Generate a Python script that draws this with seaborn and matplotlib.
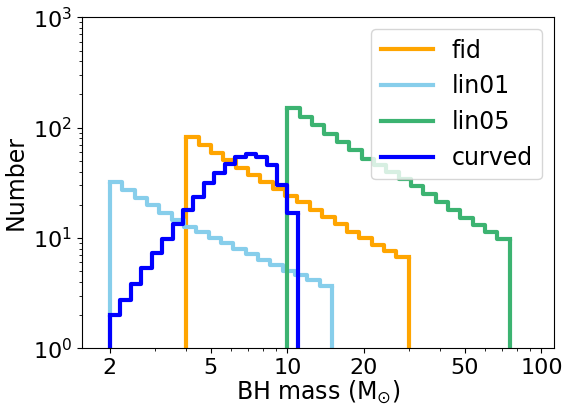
import numpy as np
import pandas as pd
import matplotlib
matplotlib.use("Agg")
import matplotlib.pyplot as plt
from matplotlib.lines import Line2D
import seaborn as sns

# Black-hole mass distributions for four models (counts per log-spaced bin)
models = ["fid", "lin01", "lin05", "curved"]
colors = ["orange", "skyblue", "mediumseagreen", "blue"]

# mass range covered by each model's histogram (M_sun)
mass_lo = [4.0, 2.0, 10.0, 2.0]
mass_hi = [30.0, 15.0, 75.0, 11.0]
n_bins = 18

counts_fid = [82.9, 69.3, 59.0, 50.4, 42.8, 37.3, 32.2, 28.0, 23.9,
              21.0, 17.9, 15.6, 13.4, 11.4, 9.94, 8.64, 7.67, 6.68]
counts_lin01 = [32.4, 27.2, 23.2, 19.9, 17.0, 14.6, 12.7, 11.3, 9.94,
                9.07, 7.90, 7.16, 6.32, 5.69, 5.05, 4.62, 4.16, 3.69]
counts_lin05 = [150.9, 125.8, 105.1, 87.1, 74.2, 62.1, 52.0, 45.4, 39.7,
                34.5, 29.4, 25.2, 21.3, 17.9, 15.2, 13.0, 11.4, 9.73]
counts_curved = [2.02, 2.74, 3.81, 5.31, 7.27, 9.83, 13.3, 17.8, 23.7,
                 31.2, 38.8, 46.7, 54.6, 57.5, 54.6, 45.4, 30.4, 16.7]
all_counts = [counts_fid, counts_lin01, counts_lin05, counts_curved]

x_ticks = [2, 5, 10, 20, 50, 100]
x_ticklabels = ["2", "5", "10", "20", "50", "100"]

plt.rcParams["font.family"] = ["DejaVu Sans"]
plt.rcParams["mathtext.fontset"] = "dejavusans"

fig = plt.figure(figsize=(5.68, 4.04), dpi=100)
ax = fig.add_axes([81.7 / 568, (404 - 348.3) / 404,
                   (554 - 81.7) / 568, (348.3 - 17.3) / 404])

y_floor, y_top = 1, 1000

for name, color, lo, hi, counts in zip(models, colors, mass_lo, mass_hi, all_counts):
    edges = np.geomspace(lo, hi, n_bins + 1)
    centers = np.sqrt(edges[:-1] * edges[1:])
    df = pd.DataFrame({"mass": centers, "n": counts})
    # bins are given in log10 space because the mass axis is log-scaled
    sns.histplot(data=df, x="mass", weights="n", bins=list(np.log10(edges)),
                 element="step", fill=False, color=color, linewidth=3,
                 log_scale=(True, True), ax=ax)
    # close the outline down to the bottom of the axis at both ends
    ax.vlines([edges[0], edges[-1]], y_floor, [counts[0], counts[-1]],
              color=color, linewidth=3)

ax.set_xlim(1.55, 112)
ax.set_ylim(y_floor, y_top)
ax.set_xticks(x_ticks)
ax.set_xticklabels(x_ticklabels)
ax.tick_params(axis="both", which="major", labelsize=16)
ax.set_xlabel(r"BH mass (M$_{\odot}$)", fontsize=17, labelpad=0)
ax.set_ylabel("Number", fontsize=17, labelpad=4)

handles = [Line2D([], [], color=c, linewidth=3) for c in colors]
ax.legend(handles, models, loc="upper right", fontsize=17, handlelength=2.2)

fig.savefig("out.png", dpi=100)
